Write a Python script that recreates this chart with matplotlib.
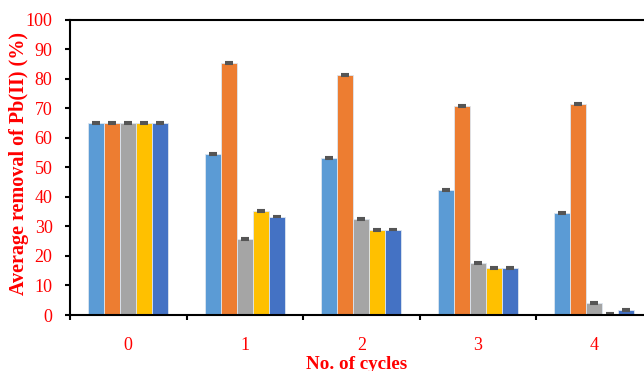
import numpy as np
from matplotlib import pyplot as plt

cycles = ['0', '1', '2', '3', '4']
s1 = [65.0, 54.4, 53.0, 42.4, 34.5]
s2 = [65.0, 85.2, 81.3, 70.8, 71.4]
s3 = [65.0, 25.6, 32.4, 17.6, 4.0]
s4 = [65.0, 35.2, 28.7, 15.9, 0.3]
s5 = [65.0, 33.3, 28.9, 16.0, 1.6]
err = [0.3, 0.3, 0.3, 0.3, 0.3]

colors = ['#5B9BD5', '#ED7D31', '#A5A5A5', '#FFC000', '#4472C4']
red = '#FF0000'

plt.rcParams['font.family'] = 'Liberation Serif'
fig = plt.figure(figsize=(6.44, 3.71), dpi=100)
ax = fig.add_axes([70/644, 56/371, 574/644, 295.5/371])

x = np.arange(len(cycles))
w = 0.138
for i, vals in enumerate([s1, s2, s3, s4, s5]):
    ax.bar(x + (i - 2)*w, vals, w, color=colors[i], edgecolor='#DDE6F0', linewidth=0.6,
           yerr=err, error_kw=dict(ecolor='#555555', elinewidth=1, capsize=3, capthick=1.5))

# category slots are ~116.5 px wide; the axis runs past the right edge
ax.set_xlim(-0.5, 574/116.5 - 0.5)
ax.set_ylim(0, 100)
ax.set_yticks(range(0, 101, 10))
ax.set_xticks([-0.5, 0.5, 1.5, 2.5, 3.5])
ax.set_xticklabels([])
ax.set_xticks(x, minor=True)
ax.set_xticklabels(cycles, minor=True)
ax.tick_params(axis='x', which='major', direction='out', length=3.6, width=1.5)
ax.tick_params(axis='x', which='minor', length=0, pad=15.5, labelsize=13, labelcolor=red)
ax.tick_params(axis='y', direction='out', length=3.6, width=1.5, labelsize=13, labelcolor=red, pad=9)
for s in ['left', 'bottom', 'top']:
    ax.spines[s].set_linewidth(1.5)
ax.spines['right'].set_visible(False)

ax.set_ylabel('Average removal of Pb(II) (%)', color=red, fontsize=14.5, fontweight='bold')
ax.yaxis.set_label_coords(-41/574, 0.513)
ax.set_xlabel('No. of cycles', color=red, fontsize=13.7, fontweight='bold', labelpad=2)

fig.savefig('out.png', dpi=100)
